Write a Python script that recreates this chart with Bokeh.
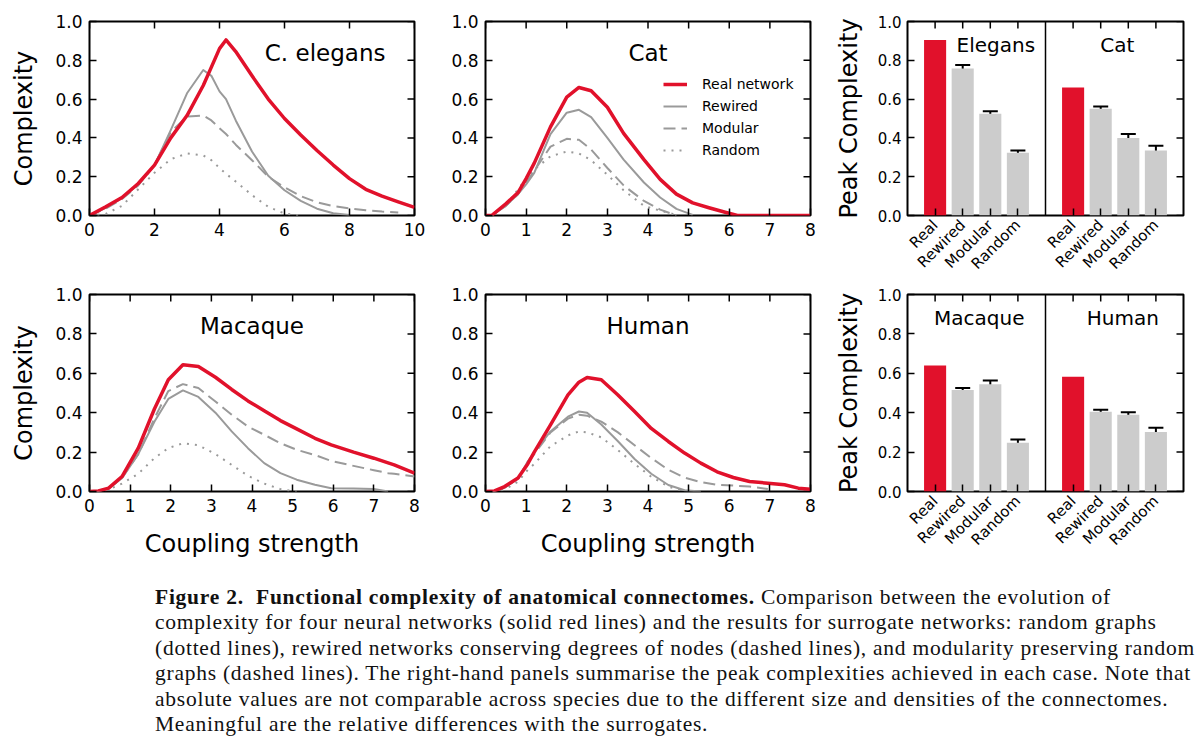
import math
import numpy as np
from bokeh.plotting import figure
from bokeh.layouts import row, column
from bokeh.models import (ColumnDataSource, FixedTicker, PrintfTickFormatter,
                          Legend, LegendItem, Whisker, TeeHead, Span, Div)
from bokeh.core.properties import value
from bokeh.embed import file_html
from bokeh.resources import INLINE

NaN = float("nan")

# ---------------- data: complexity vs coupling strength ----------------
ELEGANS_X = [0, 0.5, 1, 1.5, 2, 2.5, 3, 3.5, 3.75, 4, 4.2, 4.5, 5, 5.5, 6, 6.5, 7, 7.5, 8, 8.5, 9, 9.5, 10]
ELEGANS_REAL = [0, 0.045, 0.093, 0.165, 0.26, 0.40, 0.515, 0.67, 0.765, 0.86, 0.905, 0.845, 0.72, 0.60,
                0.50, 0.415, 0.335, 0.26, 0.19, 0.135, 0.10, 0.07, 0.042]
ELEGANS_REWIRED = [0, 0.04, 0.09, 0.16, 0.26, 0.44, 0.63, 0.75, 0.72, 0.64, 0.60, 0.49, 0.33, 0.205,
                   0.13, 0.075, 0.035, 0.012, 0.002, NaN, NaN, NaN, NaN]
ELEGANS_MODULAR = [0, 0.035, 0.085, 0.155, 0.26, 0.43, 0.51, 0.515, 0.49, 0.45, 0.42, 0.365, 0.285,
                   0.20, 0.145, 0.10, 0.068, 0.048, 0.037, 0.027, 0.02, 0.015, NaN]
ELEGANS_RANDOM = [0, 0.008, 0.05, 0.135, 0.22, 0.29, 0.32, 0.31, 0.285, 0.245, 0.215, 0.175, 0.105,
                  0.045, 0.01, 0.0, NaN, NaN, NaN, NaN, NaN, NaN, NaN]

CAT_X = [0, 0.15, 0.5, 0.8, 1, 1.2, 1.6, 2, 2.3, 2.6, 3, 3.4, 3.9, 4.3, 4.7, 5.1, 5.5, 5.9, 6.2, 7, 8]
CAT_REAL = [0, 0, 0.06, 0.118, 0.19, 0.27, 0.457, 0.61, 0.66, 0.643, 0.558, 0.423, 0.288, 0.186, 0.11,
            0.065, 0.04, 0.017, 0.0, 0.0, 0.0]
CAT_REWIRED = [0, 0, 0.05, 0.11, 0.16, 0.22, 0.42, 0.53, 0.545, 0.507, 0.40, 0.288, 0.17, 0.093, 0.034,
               0.003, NaN, NaN, NaN, NaN, NaN]
CAT_MODULAR = [0, 0, 0.05, 0.11, 0.17, 0.23, 0.355, 0.395, 0.39, 0.34, 0.245, 0.155, 0.075, 0.03, 0.0,
               NaN, NaN, NaN, NaN, NaN, NaN]
CAT_RANDOM = [0, 0, 0.05, 0.135, 0.19, 0.237, 0.305, 0.33, 0.32, 0.285, 0.21, 0.13, 0.05, 0.025, 0.003,
              NaN, NaN, NaN, NaN, NaN, NaN]

MACAQUE_X = [0, 0.22, 0.47, 0.8, 1.2, 1.6, 1.94, 2.3, 2.68, 3.1, 3.5, 3.9, 4.3, 4.7, 5.1, 5.55, 5.95,
             6.5, 7, 7.35, 7.5, 8]
MACAQUE_REAL = [0, 0.003, 0.017, 0.076, 0.22, 0.42, 0.567, 0.643, 0.635, 0.58, 0.518, 0.46, 0.41, 0.36,
                0.318, 0.27, 0.237, 0.20, 0.169, 0.145, 0.135, 0.093]
MACAQUE_REWIRED = [0, 0.003, 0.015, 0.068, 0.19, 0.355, 0.47, 0.513, 0.48, 0.40, 0.305, 0.22, 0.144,
                   0.093, 0.06, 0.034, 0.017, 0.015, 0.013, 0.0, NaN, NaN]
MACAQUE_MODULAR = [0, 0.003, 0.015, 0.07, 0.19, 0.372, 0.51, 0.545, 0.525, 0.457, 0.39, 0.33, 0.288,
                   0.245, 0.212, 0.185, 0.155, 0.13, 0.108, 0.093, 0.09, 0.076]
MACAQUE_RANDOM = [0, 0, 0.01, 0.04, 0.09, 0.17, 0.22, 0.245, 0.235, 0.19, 0.135, 0.08, 0.04, 0.012, 0.0,
                  NaN, NaN, NaN, NaN, NaN, NaN, NaN]

HUMAN_X = [0, 0.22, 0.47, 0.8, 1.04, 1.2, 1.6, 2.03, 2.3, 2.5, 2.85, 3.26, 3.67, 4.08, 4.5, 4.9, 5.3,
           5.7, 6.1, 6.5, 6.95, 7.36, 7.7, 8]
HUMAN_REAL = [0, 0.003, 0.025, 0.068, 0.14, 0.20, 0.338, 0.49, 0.555, 0.579, 0.567, 0.49, 0.406, 0.32,
              0.254, 0.195, 0.144, 0.10, 0.071, 0.051, 0.042, 0.034, 0.017, 0.012]
HUMAN_REWIRED = [0, 0.003, 0.02, 0.065, 0.152, 0.20, 0.305, 0.38, 0.406, 0.40, 0.34, 0.255, 0.165, 0.09,
                 0.033, 0.006, 0.0, NaN, NaN, NaN, NaN, NaN, NaN, NaN]
HUMAN_MODULAR = [0, 0.003, 0.02, 0.065, 0.15, 0.19, 0.30, 0.37, 0.39, 0.385, 0.355, 0.30, 0.235, 0.17,
                 0.11, 0.07, 0.048, 0.034, 0.03, 0.025, 0.013, NaN, NaN, NaN]
HUMAN_RANDOM = [0, 0, 0.01, 0.05, 0.11, 0.14, 0.23, 0.285, 0.305, 0.30, 0.275, 0.21, 0.14, 0.075, 0.025,
                0.0, NaN, NaN, NaN, NaN, NaN, NaN, NaN, NaN]

SERIES_NAMES = ["Real network", "Rewired", "Modular", "Random"]

# ---------------- data: peak complexity bars ----------------
CATEGORIES = ["Real", "Rewired", "Modular", "Random"]
TOP_GROUPS = ["Elegans", "Cat"]
ELEGANS_PEAK = [0.905, 0.758, 0.525, 0.323]
ELEGANS_ERR = [0, 0.018, 0.012, 0.012]
CAT_PEAK = [0.66, 0.55, 0.40, 0.335]
CAT_ERR = [0, 0.012, 0.02, 0.025]
BOTTOM_GROUPS = ["Macaque", "Human"]
MACAQUE_PEAK = [0.64, 0.515, 0.545, 0.248]
MACAQUE_ERR = [0, 0.01, 0.019, 0.016]
HUMAN_PEAK = [0.583, 0.405, 0.39, 0.302]
HUMAN_ERR = [0, 0.01, 0.012, 0.022]

Y_TICKS = [0.0, 0.2, 0.4, 0.6, 0.8, 1.0]

# ---------------- styles ----------------
RED = "#e1112b"
GRAY = "#9a9a9a"
BAR_GRAY = "#cccccc"
FONT = "DejaVu Sans"
STYLES = {
    "Real network": dict(line_color=RED, line_width=3.5),
    "Rewired": dict(line_color=GRAY, line_width=2),
    "Modular": dict(line_color=GRAY, line_width=2, line_dash="12 6"),
    "Random": dict(line_color=GRAY, line_width=2, line_dash="2 6"),
}


def style_axis(ax, font_size):
    ax.axis_line_color = None
    ax.major_tick_in = 7
    ax.major_tick_out = 0
    ax.minor_tick_in = 0
    ax.minor_tick_out = 0
    ax.major_tick_line_width = 1.5
    ax.major_tick_line_color = "black"
    ax.major_label_text_font = FONT
    ax.major_label_text_color = "black"
    ax.major_label_text_font_size = font_size
    ax.major_label_standoff = 7
    ax.axis_label_text_font = FONT
    ax.axis_label_text_font_style = "normal"
    ax.axis_label_text_font_size = "24px"
    ax.axis_label_text_color = "black"


def base_fig(width, height, x_range, borders):
    bl, br, bt, bb = borders
    p = figure(width=width, height=height, x_range=x_range, y_range=(0, 1),
               output_backend="svg", toolbar_location=None,
               min_border_left=bl, min_border_right=br, min_border_top=bt, min_border_bottom=bb,
               background_fill_color="white", border_fill_color="white")
    p.grid.visible = False
    p.outline_line_color = "black"
    p.outline_line_width = 2
    p.outline_line_alpha = 1
    return p


def add_frame_axes(p, xticks, x_end, tick_font):
    xax = p.below[0]
    yax = p.left[0]
    xax.ticker = FixedTicker(ticks=xticks)
    yax.ticker = FixedTicker(ticks=Y_TICKS)
    yax.formatter = PrintfTickFormatter(format="%.1f")
    style_axis(xax, tick_font)
    style_axis(yax, tick_font)
    # inward ticks mirrored on the top and right edges of the frame (clipped to the frame)
    p.scatter(x=xticks, y=[Y_TICKS[-1]] * len(xticks), marker="dash", angle=math.pi / 2,
              size=14, line_color="black", line_width=1.5)
    p.scatter(x=[x_end] * len(Y_TICKS), y=Y_TICKS, marker="dash",
              size=14, line_color="black", line_width=1.5)
    return xax, yax


def line_panel(x, series, xmax, xstep, title, title_xfrac, width, height, borders,
               ylabel=None, xlabel=None, legend_loc=None):
    p = base_fig(width, height, (0, xmax), borders)
    xax, yax = add_frame_axes(p, list(range(0, xmax + 1, xstep)), xmax, "17px")
    if ylabel:
        yax.axis_label = ylabel
        yax.axis_label_standoff = 14
    if xlabel:
        xax.axis_label = xlabel
        xax.axis_label_standoff = 15
    renderers = {}
    xa = np.array(x, dtype=float)
    for name in reversed(SERIES_NAMES):
        ya = np.array(series[name], dtype=float)
        renderers[name] = p.line(xa, ya, line_join="round", **STYLES[name])
    p.text(x=[xmax * title_xfrac], y=[0.84], text=[title], text_font=value(FONT),
           text_font_size="23px", text_align="center", text_baseline="middle", text_color="black")
    if legend_loc is not None:
        items = [LegendItem(label=name, renderers=[renderers[name]]) for name in SERIES_NAMES]
        leg = Legend(items=items, location=legend_loc, padding=0, margin=0, spacing=2,
                     glyph_width=24, glyph_height=20, label_height=20, label_standoff=15,
                     label_text_font=FONT, label_text_font_size="14px", label_text_color="black",
                     border_line_color=None, background_fill_alpha=0)
        p.add_layout(leg, "center")
    return p


def bar_panel(groups, peaks, errs, label_dx, width, height, borders):
    n = len(CATEGORIES)
    xs, tops, colors = [], [], []
    wx, wup, wlo = [], [], []
    overrides = {}
    for g, (vals, ers) in enumerate(zip(peaks, errs)):
        for i, (v, e) in enumerate(zip(vals, ers)):
            xpos = g * (n + 1) + i
            xs.append(xpos)
            tops.append(v)
            colors.append(RED if i == 0 else BAR_GRAY)
            overrides[xpos] = CATEGORIES[i]
            if e > 0:
                wx.append(xpos)
                wup.append(v + e)
                wlo.append(v - e)
    xend = len(groups) * (n + 1) - 1
    p = base_fig(width, height, (-1, xend), borders)
    p.vbar(x=xs, top=tops, width=0.8, fill_color=colors, line_color=None)
    xax, yax = add_frame_axes(p, xs, xend, "15px")
    xax.major_label_overrides = overrides
    xax.major_label_orientation = math.pi / 4
    xax.major_label_standoff = 7
    yax.major_label_standoff = 6
    yax.axis_label = "Peak Complexity"
    yax.axis_label_standoff = 12
    wsrc = ColumnDataSource(dict(x=wx, upper=wup, lower=wlo))
    p.add_layout(Whisker(base="x", upper="upper", lower="lower", source=wsrc,
                         line_color="black", line_width=2,
                         upper_head=TeeHead(size=15, line_width=2, line_color="black"),
                         lower_head=TeeHead(size=15, line_width=2, line_color="black")))
    for g in range(1, len(groups)):
        p.add_layout(Span(location=g * (n + 1) - 1, dimension="height",
                          line_color="black", line_width=1.5))
    centers = [g * (n + 1) + (n - 1) / 2 + dx for g, dx in enumerate(label_dx)]
    p.text(x=centers, y=[0.88] * len(groups), text=groups, text_font=value(FONT),
           text_font_size="20px", text_align="center", text_baseline="middle", text_color="black")
    return p


def series(real, rewired, modular, random_):
    return {"Real network": real, "Rewired": rewired, "Modular": modular, "Random": random_}


H1, H2 = 282, 283
p1 = line_panel(ELEGANS_X, series(ELEGANS_REAL, ELEGANS_REWIRED, ELEGANS_MODULAR, ELEGANS_RANDOM),
                10, 2, "C. elegans", 0.725, 440, H1, (89, 26, 21, 63), ylabel="Complexity")
p2 = line_panel(CAT_X, series(CAT_REAL, CAT_REWIRED, CAT_MODULAR, CAT_RANDOM),
                8, 1, "Cat", 0.5, 390, H1, (45, 20, 21, 63), legend_loc=(178, 55))
p3 = bar_panel(TOP_GROUPS, [ELEGANS_PEAK, CAT_PEAK], [ELEGANS_ERR, CAT_ERR], [0.7, 0.1],
               362, H1, (77, 9, 21, 63))
p4 = line_panel(MACAQUE_X, series(MACAQUE_REAL, MACAQUE_REWIRED, MACAQUE_MODULAR, MACAQUE_RANDOM),
                8, 1, "Macaque", 0.5, 440, H2, (89, 26, 12, 74), ylabel="Complexity",
                xlabel="Coupling strength")
p5 = line_panel(HUMAN_X, series(HUMAN_REAL, HUMAN_REWIRED, HUMAN_MODULAR, HUMAN_RANDOM),
                8, 1, "Human", 0.5, 390, H2, (45, 20, 12, 74), xlabel="Coupling strength")
p6 = bar_panel(BOTTOM_GROUPS, [MACAQUE_PEAK, HUMAN_PEAK], [MACAQUE_ERR, HUMAN_ERR], [0.1, 0.3],
               362, H2, (77, 9, 12, 74))

CAPTION_LINES = [
    "<b>Figure 2.&nbsp; Functional complexity of anatomical connectomes.</b> Comparison between the evolution of",
    "complexity for four neural networks (solid red lines) and the results for surrogate networks: random graphs",
    "(dotted lines), rewired networks conserving degrees of nodes (dashed lines), and modularity preserving random",
    "graphs (dashed lines). The right-hand panels summarise the peak complexities achieved in each case. Note that",
    "absolute values are not comparable across species due to the different size and densities of the connectomes.",
    "Meaningful are the relative differences with the surrogates.",
]
caption = Div(text="<br>".join(CAPTION_LINES), width=1040, margin=(20, 0, 0, 155),
              styles={"font-family": "'Liberation Serif', serif", "font-size": "21.5px",
                      "letter-spacing": "0.75px", "line-height": "25.4px", "color": "#111",
                      "white-space": "nowrap"})

layout = column(row(p1, p2, p3), row(p4, p5, p6), caption)
open("out.html", "w").write(file_html(layout, INLINE))
